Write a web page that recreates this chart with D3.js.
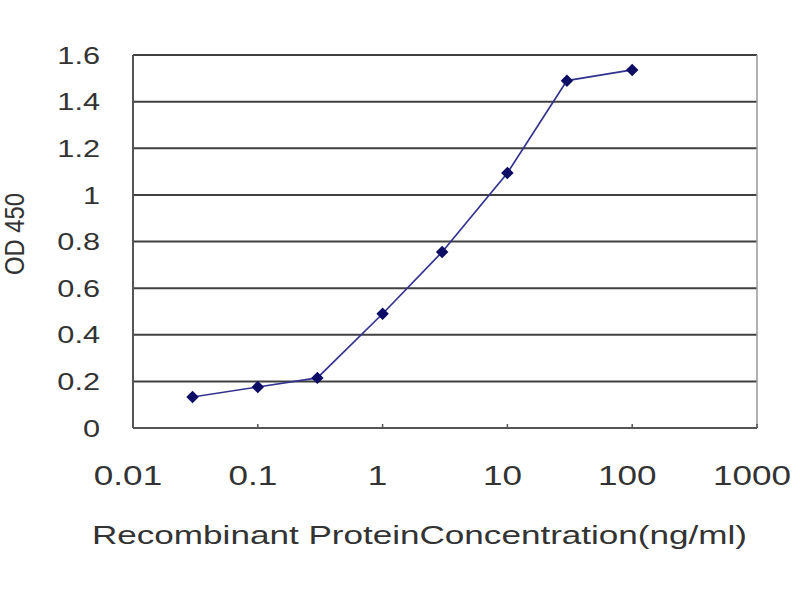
<!DOCTYPE html>
<html>
<head>
<meta charset="utf-8">
<script src="https://cdn.jsdelivr.net/npm/d3@7"></script>
<style>
  body { margin: 0; background: #fff; }
  text { font-family: "Liberation Sans", Arial, sans-serif; fill: #333; }
</style>
</head>
<body>
<script>
// Data
const concentration = [0.03, 0.1, 0.3, 1, 3, 10, 30, 100];
const od450 = [0.133, 0.176, 0.215, 0.49, 0.755, 1.094, 1.49, 1.536];
const yTicks = [0, 0.2, 0.4, 0.6, 0.8, 1, 1.2, 1.4, 1.6];
const yTickLabels = ["0", "0.2", "0.4", "0.6", "0.8", "1", "1.2", "1.4", "1.6"];
const xTicks = [0.01, 0.1, 1, 10, 100, 1000];
const xTickLabels = ["0.01", "0.1", "1", "10", "100", "1000"];

const width = 800;
const height = 600;
const plot = { left: 133, right: 757, top: 55, bottom: 428 };

const x = d3.scaleLog().domain([0.01, 1000]).range([plot.left, plot.right]);
const y = d3.scaleLinear().domain([0, 1.6]).range([plot.bottom, plot.top]);

const svg = d3.select("body")
    .append("svg")
    .attr("width", width)
    .attr("height", height);

// gridlines
svg.append("g")
    .selectAll("line")
    .data(yTicks.slice(1))
    .join("line")
    .attr("x1", plot.left)
    .attr("x2", plot.right)
    .attr("y1", d => y(d))
    .attr("y2", d => y(d))
    .attr("stroke", "#404040")
    .attr("stroke-width", 2);

// right border
svg.append("line")
    .attr("x1", plot.right).attr("x2", plot.right)
    .attr("y1", plot.top).attr("y2", plot.bottom)
    .attr("stroke", "#999").attr("stroke-width", 1.5);

// left and bottom axes
svg.append("line")
    .attr("x1", plot.left).attr("x2", plot.left)
    .attr("y1", plot.top).attr("y2", plot.bottom)
    .attr("stroke", "#555").attr("stroke-width", 2);
svg.append("line")
    .attr("x1", plot.left).attr("x2", plot.right)
    .attr("y1", plot.bottom).attr("y2", plot.bottom)
    .attr("stroke", "#555").attr("stroke-width", 2);

// x tick marks
svg.append("g")
    .selectAll("line")
    .data(xTicks)
    .join("line")
    .attr("x1", d => x(d)).attr("x2", d => x(d))
    .attr("y1", plot.bottom).attr("y2", plot.bottom - 4)
    .attr("stroke", "#555").attr("stroke-width", 1.5);

// y tick labels (picture is stretched sideways, so the glyphs are too)
svg.append("g")
    .selectAll("g")
    .data(yTicks)
    .join("g")
    .attr("transform", d => `translate(100, ${y(d)}) scale(1.28, 1)`)
    .append("text")
    .attr("text-anchor", "end")
    .attr("dy", "0.36em")
    .attr("font-size", 24)
    .text((d, i) => yTickLabels[i]);

// x tick labels
svg.append("g")
    .selectAll("g")
    .data(xTicks)
    .join("g")
    .attr("transform", d => `translate(${x(d) - 5}, 485) scale(1.3, 1)`)
    .append("text")
    .attr("text-anchor", "middle")
    .attr("font-size", 27)
    .text((d, i) => xTickLabels[i]);

// axis titles
svg.append("text")
    .attr("x", 92)
    .attr("y", 544)
    .attr("font-size", 25)
    .attr("textLength", 655)
    .attr("lengthAdjust", "spacingAndGlyphs")
    .text("Recombinant ProteinConcentration(ng/ml)");

svg.append("text")
    .attr("transform", "translate(24, 234) scale(1.28, 1) rotate(-90)")
    .attr("text-anchor", "middle")
    .attr("font-size", 21)
    .attr("textLength", 82)
    .attr("lengthAdjust", "spacingAndGlyphs")
    .text("OD 450");

// series line
const points = concentration.map((c, i) => [c, od450[i]]);
svg.append("path")
    .datum(points)
    .attr("fill", "none")
    .attr("stroke", "#33338f")
    .attr("stroke-width", 1.7)
    .attr("d", d3.line().x(d => x(d[0])).y(d => y(d[1])));

// diamond markers
svg.append("g")
    .selectAll("path")
    .data(points)
    .join("path")
    .attr("transform", d => `translate(${x(d[0])}, ${y(d[1])}) rotate(45)`)
    .attr("d", d3.symbol(d3.symbolSquare, 78))
    .attr("fill", "#0d0d66");
</script>
</body>
</html>
